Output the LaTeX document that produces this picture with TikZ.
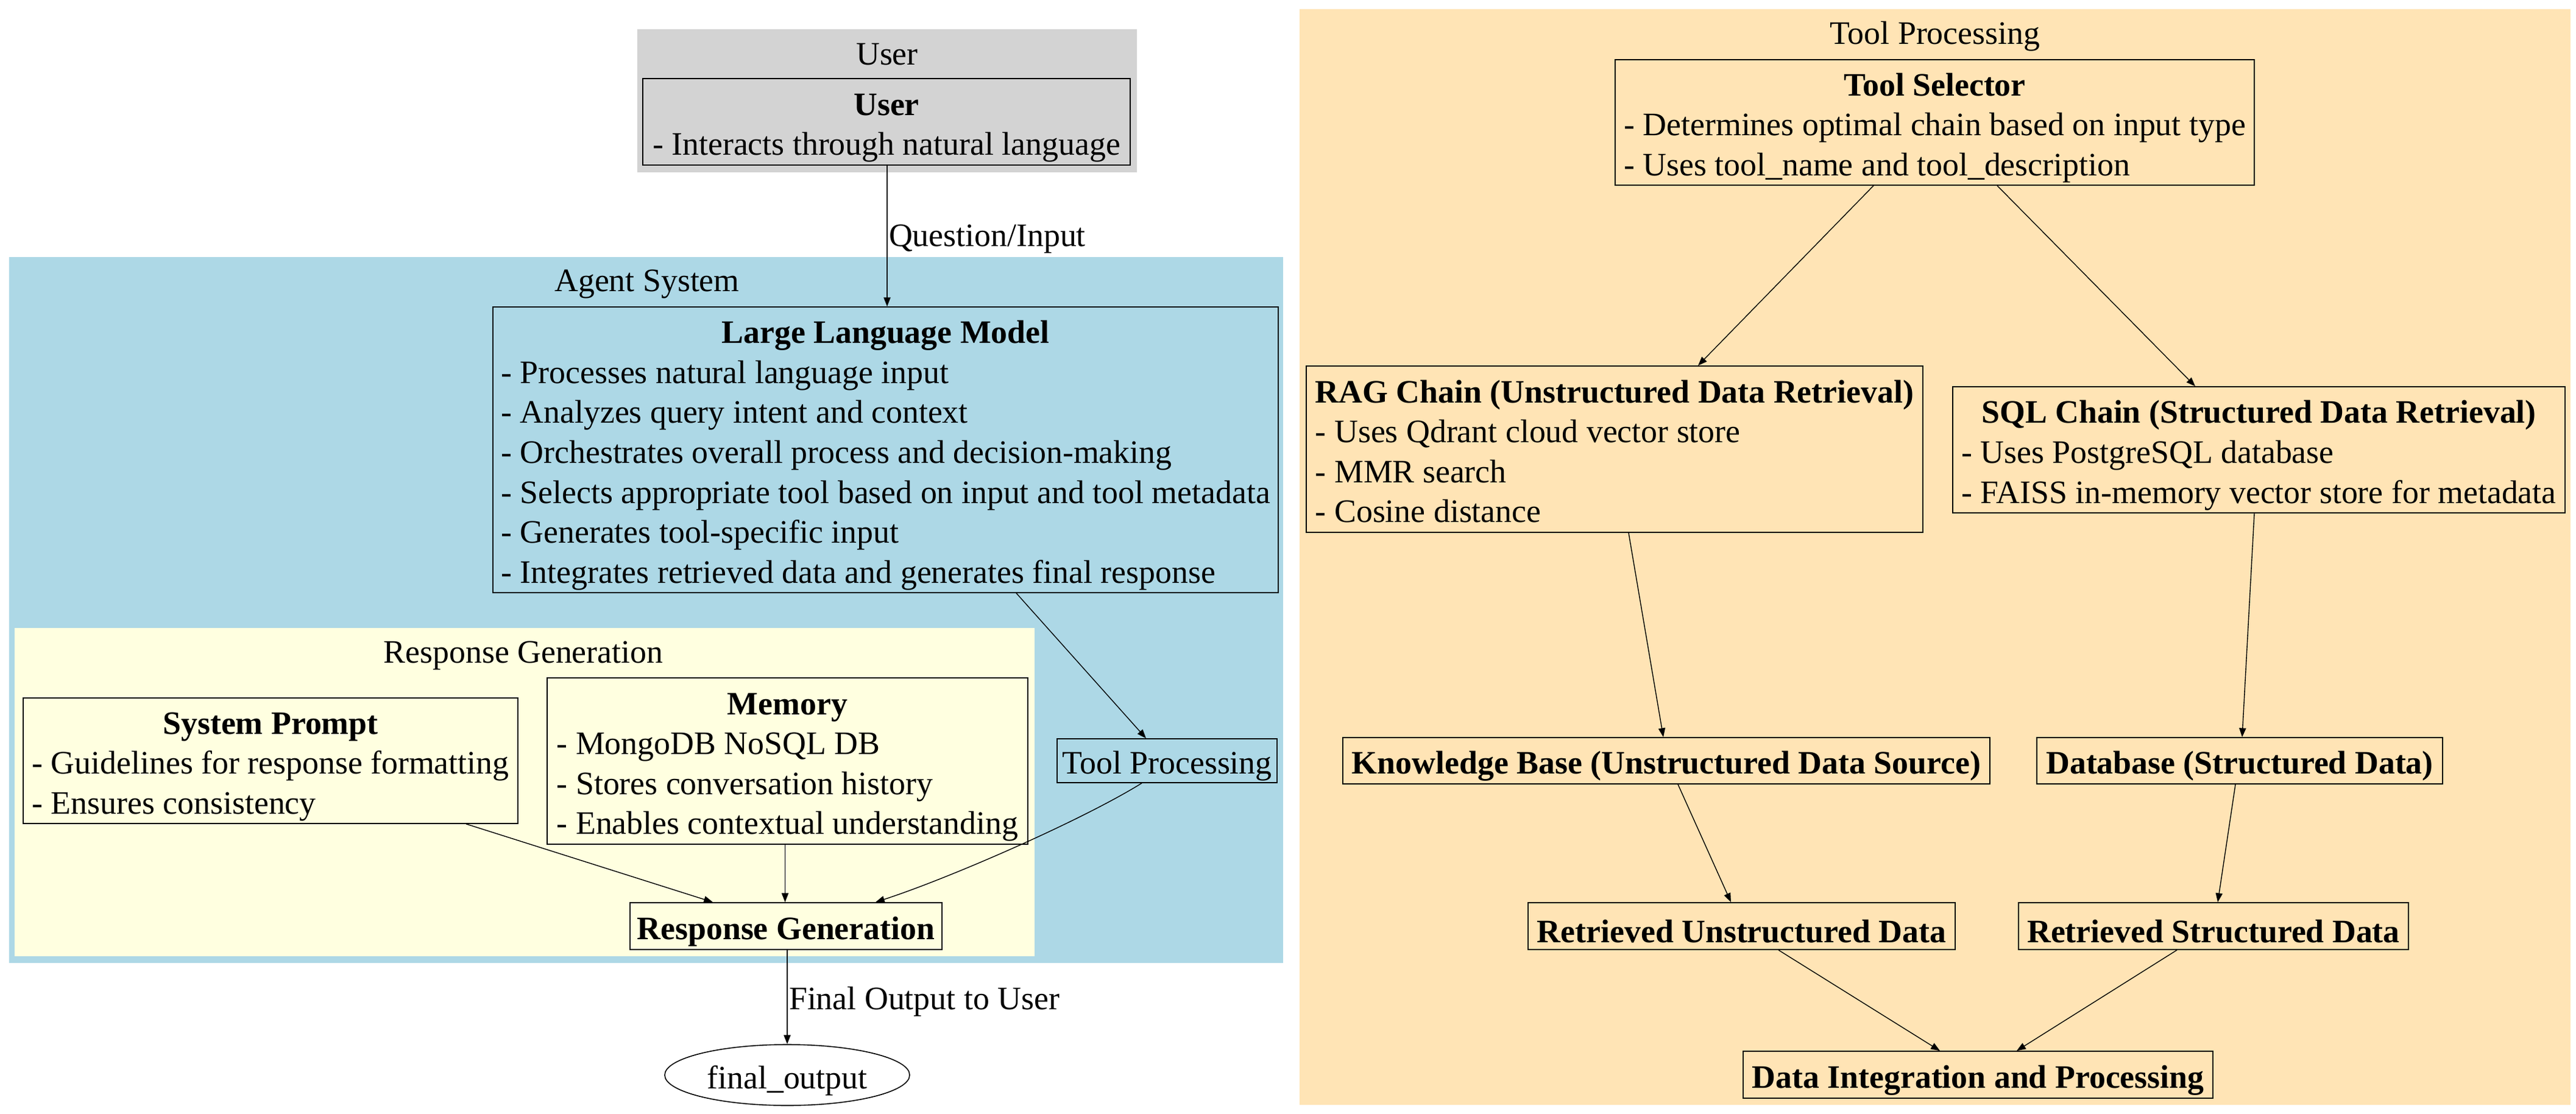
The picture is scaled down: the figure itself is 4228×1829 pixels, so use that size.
\documentclass[tikz,border=0pt]{standalone}
\usepackage{fontspec}
\setmainfont{Liberation Serif}
\usetikzlibrary{arrows.meta,calc,shapes.geometric}
\definecolor{userbg}{HTML}{D3D3D3}
\definecolor{agentbg}{HTML}{ADD8E6}
\definecolor{respbg}{HTML}{FFFFE0}
\definecolor{toolbg}{HTML}{FFE4B5}
\newcommand{\gvfont}{\fontsize{13.45pt}{16.4pt}\selectfont}
\newcommand{\gvlow}[1]{\raisebox{-2.2pt}[\height][\depth]{#1}}
\newcommand{\gvrec}[2]{\gvlow{\begin{tabular}{@{}l@{}}\multicolumn{1}{@{}c@{}}{\bfseries #1}\\#2\end{tabular}}}
\begin{document}
\begin{tikzpicture}[x=0.25pt,y=-0.25pt,
  gvbox/.style 2 args={draw=black, line width=0.4pt, rectangle, inner sep=0pt,
    minimum width=#1*0.25pt, minimum height=#2*0.25pt, font=\gvfont},
  gvtitle/.style={font=\gvfont\bfseries},
  gvlabel/.style={font=\gvfont, inner sep=0pt},
  gvedge/.style={draw=black, line width=0.35pt, -{Triangle[length=3.7pt,width=2.8pt]}},
  elabel/.style={font=\gvfont, inner sep=0.6pt, anchor=west}]
\useasboundingbox (0,0) rectangle (4228,1829);
% clusters
\fill[userbg] (1046,48) rectangle (1866,283);
\fill[agentbg] (15,422) rectangle (2106,1581);
\fill[respbg] (24,1031) rectangle (1698,1570);
\fill[toolbg] (2133,15) rectangle (4219,1814);
% cluster labels
\node[gvlabel] (lbluser) at (1456,89) {User};
\node[gvlabel] (lblagent) at (1062,466) {Agent System};
\node[gvlabel] (lblresp) at (859,1076) {Response Generation};
\node[gvlabel] (lbltool) at (3176,60) {Tool Processing};
% nodes
\node[gvbox={800}{142}] (user) at (1455,200) {\gvrec{User}{- Interacts through natural language}};
\node[gvbox={1289}{469}] (llm) at (1453.5,738.5) {\gvrec{Large Language Model}{%
- Processes natural language input\\
- Analyzes query intent and context\\
- Orchestrates overall process and decision-making\\
- Selects appropriate tool based on input and tool metadata\\
- Generates tool-specific input\\
- Integrates retrieved data and generates final response}};
\node[gvbox={812}{206}] (sysp) at (444,1249) {\gvrec{System Prompt}{%
- Guidelines for response formatting\\
- Ensures consistency}};
\node[gvbox={789}{273}] (mem) at (1292.5,1249.5) {\gvrec{Memory}{%
- MongoDB NoSQL DB\\
- Stores conversation history\\
- Enables contextual understanding}};
\node[gvbox={361}{72}] (tp) at (1915.5,1249) {\gvlow{Tool Processing}};
\node[gvbox={512}{77}, gvtitle] (respgen) at (1290,1520.5) {\gvlow{Response Generation}};
\node[draw=black, line width=0.4pt, ellipse, inner sep=0pt, minimum width=402*0.25pt,
  minimum height=100*0.25pt, font=\gvfont] (final) at (1292,1765) {\gvlow{final\_output}};
\node[gvbox={1049}{206}] (tsel) at (3175.5,201) {\gvrec{Tool Selector}{%
- Determines optimal chain based on input type\\
- Uses tool\_name and tool\_description}};
\node[gvbox={1012}{273}] (rag) at (2650,737.5) {\gvrec{RAG Chain (Unstructured Data Retrieval)}{%
- Uses Qdrant cloud vector store\\
- MMR search\\
- Cosine distance}};
\node[gvbox={1005}{207}] (sql) at (3707.5,738.5) {\gvrec{SQL Chain (Structured Data Retrieval)}{%
- Uses PostgreSQL database\\
- FAISS in-memory vector store for metadata}};
\node[gvbox={1062}{76}, gvtitle] (kb) at (2735,1249) {\gvlow{Knowledge Base (Unstructured Data Source)}};
\node[gvbox={666}{76}, gvtitle] (db) at (3676,1249) {\gvlow{Database (Structured Data)}};
\node[gvbox={701}{77}, gvtitle] (retu) at (2858.5,1520.5) {\gvlow{Retrieved Unstructured Data}};
\node[gvbox={640}{77}, gvtitle] (rets) at (3633,1520.5) {\gvlow{Retrieved Structured Data}};
\node[gvbox={771}{77}, gvtitle] (di) at (3246.5,1764.5) {\gvlow{Data Integration and Processing}};
% edges
\draw[gvedge] ($(user.south)+(1,0)$) -- node[elabel, pos=0.52] {Question/Input} ($(llm.north)+(2.5,0)$);
\draw[gvedge] ($(llm.south)+(214.5,0)$) -- ($(tp.north)+(-34.5,0)$);
\draw[gvedge] ($(sysp.south)+(321,0)$) -- ($(respgen.north)+(-120,0)$);
\draw[gvedge] ($(mem.south)+(-4,0)$) -- ($(respgen.north)+(-1.5,0)$);
\draw[gvedge] ($(tp.south)+(-41.5,0)$) .. controls ($(tp.south)+(-141.5,62)$) and ($(respgen.north)+(267,-39)$) .. ($(respgen.north)+(147,0)$);
\draw[gvedge] ($(respgen.south)+(2,0)$) -- node[elabel, pos=0.55] {Final Output to User} (final.north);
\draw[gvedge] ($(tsel.south)+(-100.5,0)$) -- ($(rag.north)+(137,0)$);
\draw[gvedge] ($(tsel.south)+(102.5,0)$) -- ($(sql.north)+(-104.5,0)$);
\draw[gvedge] ($(rag.south)+(23,0)$) -- ($(kb.north)+(-5,0)$);
\draw[gvedge] ($(sql.south)+(-7.5,0)$) -- ($(db.north)+(4,0)$);
\draw[gvedge] ($(kb.south)+(19,0)$) -- ($(retu.north)+(-17.5,0)$);
\draw[gvedge] ($(db.south)+(-7,0)$) -- ($(rets.north)+(7,0)$);
\draw[gvedge] ($(retu.south)+(60.5,0)$) -- ($(di.north)+(-62.5,0)$);
\draw[gvedge] ($(rets.south)+(-60,0)$) -- ($(di.north)+(63.5,0)$);
\end{tikzpicture}
\end{document}
